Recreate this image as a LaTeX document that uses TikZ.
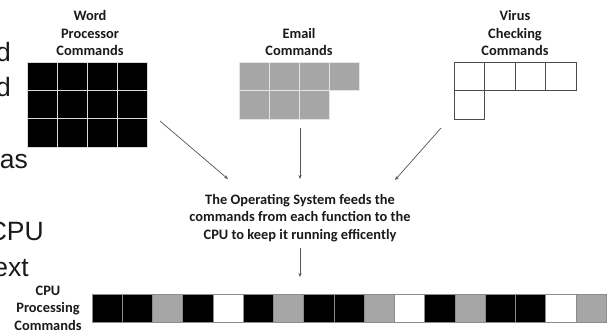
\documentclass[tikz,border=0pt]{standalone}
\usepackage{fontspec}
\setmainfont{Carlito}
\newfontfamily\arialfont{Liberation Sans}
\usetikzlibrary{arrows.meta}
\definecolor{cellgray}{HTML}{A6A6A6}
\definecolor{arrowgray}{HTML}{555555}
\definecolor{txt}{HTML}{1A1A1A}
\begin{document}
\begin{tikzpicture}[x=1pt,y=-1pt,
  lbl/.style={font=\bfseries\fontsize{14.4}{17.6}\selectfont, align=center, text=txt, inner sep=0pt},
  conn/.style={draw=arrowgray, line width=0.7pt, -{Stealth[length=4pt,width=3.2pt]}},
  frag/.style={font=\arialfont\fontsize{26.5}{30}\selectfont, anchor=base east, inner sep=0pt, text=txt},
  blackcell/.style={fill=black, draw=white!85!black, line width=0.8pt},
  graycell/.style={fill=cellgray, draw=white!90!black, line width=0.8pt},
  whitecell/.style={fill=white, draw=black!70, line width=0.7pt},
  barcell/.style={draw=black!45, line width=0.5pt}]
\useasboundingbox (0,0) rectangle (613,333);
\clip (0,0) rectangle (613,333);
\fill[white] (0,0) rectangle (613,333);
% cut-off slide text on the left
\node[frag] (f1) at (11,61) {d};
\node[frag] (f2) at (11,96) {d};
\node[frag] (f3) at (28,168) {as};
\node[frag] (f4) at (44,240) {CPU};
\node[frag] (f5) at (29,276) {ext};
% titles
\node[lbl] (wordlbl) at (90,33) {Word\\Processor\\Commands};
\node[lbl] (emaillbl) at (299,42) {Email\\Commands};
\node[lbl] (viruslbl) at (515,33) {Virus\\Checking\\Commands};
% word processor grid
\foreach \c in {0,1,2,3}{\foreach \r in {0,1,2}{
  \path[blackcell] (27+30*\c,62+28.3*\r) rectangle ++(30,28.3);}}
% email grid
\foreach \c in {0,1,2,3}{\path[graycell] (239+30*\c,62) rectangle ++(30,28.5);}
\foreach \c in {0,1,2}{\path[graycell] (239+30*\c,90.5) rectangle ++(30,28.5);}
% virus grid
\foreach \c in {0,1,2,3}{\path[whitecell] (454+30.5*\c,62) rectangle ++(30.5,28.5);}
\path[whitecell] (454,90.5) rectangle ++(30.5,28.5);
% central text
\node[lbl] (ostext) at (300,218) {The Operating System feeds the\\commands from each function to the\\CPU to keep it running efficently};
% arrows
\coordinate (a1s) at (160,121); \coordinate (a1e) at (228,179);
\coordinate (a2s) at (300,128); \coordinate (a2e) at (300,179);
\coordinate (a3s) at (441,128); \coordinate (a3e) at (395,180);
\coordinate (a4s) at (300,248); \coordinate (a4e) at (300,277);
\draw[conn] (a1s) -- (a1e);
\draw[conn] (a2s) -- (a2e);
\draw[conn] (a3s) -- (a3e);
\draw[conn] (a4s) -- (a4e);
% CPU bar
\node[lbl] (cpulbl) at (48,308) {CPU\\Processing\\Commands};
\foreach \col [count=\i from 0] in {black,black,cellgray,black,white,black,cellgray,black,black,cellgray,white,black,cellgray,black,black,white,cellgray}{
  \path[barcell, fill=\col] (92+30.24*\i,294) rectangle ++(30.24,28);}
\end{tikzpicture}
\end{document}
